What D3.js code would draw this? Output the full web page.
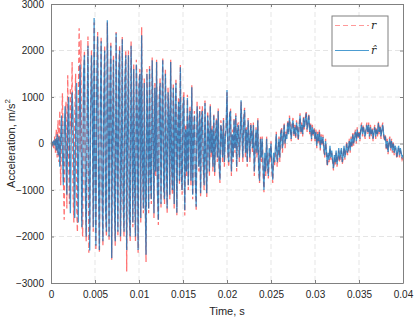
<!DOCTYPE html>
<html>
<head>
<meta charset="utf-8">
<script src="https://cdn.jsdelivr.net/npm/d3@7"></script>
<style>
  body { margin: 0; background: #fff; }
  svg text { font-family: "Liberation Sans", Arial, sans-serif; fill: #262626; }
</style>
</head>
<body>
<div id="chart"></div>
<script>
// sample step of the record, s
var dt = 0.0001;

// measured acceleration r, m/s^2 (one value every dt, from t = 0; 10 values per ms)
var rValues = [
  0, -30, 50, -100, 150, -200, 300, -300, 500, -400,
  700, -900, 200, 1080, -600, -1640, 400, 900, -1400, 1470,
  -300, -1300, 1200, 300, 1750, -1000, -1700, 600, 1500, -1200,
  -1900, 800, 2480, -200, 2220, -1600, -2000, 1200, 2000, -1100,
  -2100, 500, 2300, -2350, -1800, 700, 2000, 600, -1900, 2600,
  -400, -2300, 1300, 2400, -900, -2350, 700, 2300, -1100, -2200,
  1000, 2100, -1500, -2000, 2600, 400, -2100, 1300, 2200, -2500,
  400, 1900, -1300, -2200, 2400, 0, -2000, 1600, 2100, -2100,
  -400, 2300, -1300, -2000, 1400, 2000, -2750, 300, 2000, -1600,
  -2100, 2200, 500, -1800, 1700, -900, -2100, 1800, 700, -2350,
  1300, 1600, -1700, 2500, -400, -1500, 1400, -1100, -2550, 1600,
  400, -1500, 1700, -800, -1300, 1850, 300, -1600, 1300, -700,
  1800, -1100, -1750, 1000, 1400, -1400, 500, 1850, -1000, -1300,
  1600, -300, -1500, 1200, 700, -1200, 1800, -500, -1100, 1300,
  -1400, 600, 1400, -1550, 300, 1000, -900, 1700, -700, -1100,
  900, 1100, -1550, 400, -700, 1050, -1000, 500, 800, -900,
  1250, -1200, 300, 700, -800, -1450, 900, 400, -600, 800,
  -1150, 600, 800, -500, -1000, 950, -400, -1150, 700, 300,
  -700, 850, -300, 400, -600, 650, -700, 200, 550, -400,
  750, -500, -850, 500, 300, -400, 550, -500, 200, 350,
  1100, -300, -500, 650, 750, -700, 300, -400, 550, -200,
  650, -600, 400, 450, -400, 200, 900, 250, -400, 550,
  770, -300, 350, -500, 550, 150, -400, 450, 250, -200,
  450, -700, -200, 350, -300, 550, -600, -850, 150, -400,
  150, -600, -1050, -300, -700, 150, -500, -750, -200, -400,
  50, -600, -850, -300, -500, -200, 250, -500, -300, 150,
  -400, 250, 350, -200, 150, 450, -100, 250, 150, 500,
  250, 600, 350, 50, 450, 550, 150, 400, 100, 500,
  350, 50, 400, 650, 200, 450, 150, 600, 300, 550,
  700, 250, 500, 650, 200, 450, 50, 400, 150, 350,
  50, 300, -100, 250, 0, 300, -150, 200, -50, 190,
  -150, -300, 100, -200, -500, -250, -400, -100, -350, -200,
  -400, -580, -300, -450, -200, -500, -350, -150, -400, -250,
  -150, -450, -300, -100, -350, -200, 50, -250, -150, 100,
  -200, 150, -100, 250, -50, 200, 300, 0, 350, 100,
  270, 50, 350, 450, 150, 400, 200, 100, 350, 450,
  200, 450, 100, 400, 150, 350, 50, 300, 400, 100,
  350, 150, 480, 200, 400, 100, 350, 450, 150, 50,
  200, -150, 100, -230, 50, 150, -150, 100, -200, 50,
  -250, -100, -150, -330, -200, -100, -300, -150, -250, -350,
  -300
];

// estimated acceleration r-hat, m/s^2 (same time base)
var rHatValues = [
  0, 20, -30, 60, -40, 100, -150, 200, -250, 150,
  -500, 100, 600, -200, -900, 300, 800, -300, -1100, 400,
  1000, -200, -1500, 200, 1100, 600, -700, -1600, 300, 1300,
  -100, -1700, 500, 1700, 300, -1800, -600, 1500, 1900, -900,
  -2000, 300, 2100, -400, -2300, 500, 1900, 800, -1800, 2700,
  -500, -2200, 1200, 2300, -800, -2290, 600, 2200, -1000, -2100,
  900, 2000, -1400, -1900, 2650, 500, -2000, 1200, 2100, -2460,
  300, 1800, -1200, -2100, 2370, 100, -1900, 1500, 2000, -2000,
  -300, 2240, -1200, -1900, 1300, 1900, -2290, 200, 1900, -1500,
  -2000, 2100, 400, -1700, 1600, -800, -2000, 1700, 600, -2290,
  1200, 1500, -1600, 2330, -300, -1400, 1300, -1000, -2390, 1500,
  300, -1400, 1600, -700, -1200, 1790, 200, -1500, 1200, -600,
  1750, -1000, -1640, 900, 1300, -1300, 400, 1790, -900, -1200,
  1500, -200, -1400, 1100, 600, -1100, 1750, -400, -1000, 1200,
  -1300, 500, 1300, -1490, 200, 900, -800, 1640, -600, -1000,
  800, 1000, -1430, 300, -600, 980, -900, 400, 700, -800,
  1210, -1100, 200, 600, -700, -1360, 800, 300, -500, 700,
  -1070, 500, 700, -400, -900, 870, -300, -1070, 600, 200,
  -600, 800, -200, 300, -500, 600, -610, 100, 500, -300,
  700, -400, -780, 400, 200, -300, 500, -400, 100, 300,
  1150, -200, -400, 600, 700, -600, 200, -300, 500, -100,
  600, -500, 300, 400, -300, 100, 930, 200, -300, 500,
  720, -200, 300, -400, 500, 100, -300, 400, 200, -100,
  400, -600, -100, 300, -200, 500, -500, -800, 100, -300,
  100, -500, -1000, -200, -600, 100, -400, -700, -100, -300,
  0, -500, -780, -200, -400, -100, 200, -400, -200, 100,
  -300, 200, 300, -100, 100, 400, 0, 200, 100, 450,
  200, 550, 300, 100, 400, 500, 200, 350, 150, 450,
  300, 100, 350, 600, 250, 400, 200, 550, 350, 500,
  650, 300, 450, 600, 250, 400, 100, 350, 200, 300,
  100, 250, -50, 200, 50, 250, -100, 150, 0, 140,
  -100, -250, 50, -150, -460, -200, -350, -50, -300, -150,
  -350, -530, -250, -400, -150, -450, -300, -100, -350, -200,
  -100, -400, -250, -50, -300, -150, 0, -200, -100, 50,
  -150, 100, -50, 200, 0, 150, 250, 50, 300, 150,
  220, 100, 300, 400, 200, 350, 250, 150, 300, 400,
  250, 400, 150, 350, 200, 300, 100, 250, 350, 150,
  300, 200, 440, 250, 350, 150, 300, 400, 200, 100,
  150, -100, 50, -180, 0, 100, -100, 50, -150, 0,
  -200, -50, -100, -290, -150, -50, -250, -100, -200, -300,
  -250
];

var xTicks = [0, 0.005, 0.01, 0.015, 0.02, 0.025, 0.03, 0.035, 0.04];
var xTickLabels = ["0", "0.005", "0.01", "0.015", "0.02", "0.025", "0.03", "0.035", "0.04"];
var yTicks = [-3000, -2000, -1000, 0, 1000, 2000, 3000];

var width = 415, height = 317;
var margin = {top: 4, right: 12, bottom: 34, left: 51};
var plotW = width - margin.left - margin.right;
var plotH = height - margin.top - margin.bottom;

var svg = d3.select("#chart").append("svg")
    .attr("width", width)
    .attr("height", height);

var g = svg.append("g")
    .attr("transform", "translate(" + margin.left + "," + margin.top + ")");

var x = d3.scaleLinear().domain([0, 0.04]).range([0, plotW]);
var y = d3.scaleLinear().domain([-3000, 3000]).range([plotH, 0]);

// grid
g.selectAll(".gx").data(xTicks.slice(1, -1)).enter().append("line")
    .attr("x1", function(d){ return x(d); }).attr("x2", function(d){ return x(d); })
    .attr("y1", 0).attr("y2", plotH)
    .style("stroke", "#dedede").style("stroke-width", 0.8)
    .style("stroke-dasharray", "5,3");
g.selectAll(".gy").data(yTicks.slice(1, -1)).enter().append("line")
    .attr("x1", 0).attr("x2", plotW)
    .attr("y1", function(d){ return y(d); }).attr("y2", function(d){ return y(d); })
    .style("stroke", "#dedede").style("stroke-width", 0.8)
    .style("stroke-dasharray", "5,3");

var rData = rValues.map(function(v, i){ return {t: i * dt, v: v}; });
var rHatData = rHatValues.map(function(v, i){ return {t: i * dt, v: v}; });

var line = d3.line()
    .x(function(d){ return x(d.t); })
    .y(function(d){ return y(d.v); });

g.append("path").datum(rData)
    .attr("d", line)
    .style("fill", "none")
    .style("stroke", "#ff0000")
    .style("stroke-opacity", 0.55)
    .style("stroke-width", 1.3)
    .style("stroke-dasharray", "5,3");

g.append("path").datum(rHatData)
    .attr("d", line)
    .style("fill", "none")
    .style("stroke", "#0072BD")
    .style("stroke-opacity", 0.72)
    .style("stroke-width", 1.3);

// axes (box with inward ticks)
var axisColor = "#808080";
var xAxisB = d3.axisBottom(x).tickValues(xTicks)
    .tickFormat(function(d, i){ return xTickLabels[i]; })
    .tickSizeInner(-3).tickSizeOuter(0).tickPadding(8);
var xAxisT = d3.axisTop(x).tickValues(xTicks).tickFormat("")
    .tickSizeInner(-3).tickSizeOuter(0);
var yAxisL = d3.axisLeft(y).tickValues(yTicks).tickFormat(d3.format("d"))
    .tickSizeInner(-3).tickSizeOuter(0).tickPadding(7);
var yAxisR = d3.axisRight(y).tickValues(yTicks).tickFormat("")
    .tickSizeInner(-3).tickSizeOuter(0);

var axes = [
  g.append("g").attr("transform", "translate(0," + plotH + ")").call(xAxisB),
  g.append("g").call(xAxisT),
  g.append("g").call(yAxisL),
  g.append("g").attr("transform", "translate(" + plotW + ",0)").call(yAxisR)
];
axes.forEach(function(a){
  a.select(".domain").style("stroke", axisColor).style("stroke-width", 1);
  a.selectAll(".tick line").style("stroke", axisColor);
  a.selectAll(".tick text").style("font-size", "10px").style("fill", "#262626")
    .style("font-family", "Liberation Sans, Arial, sans-serif");
});

// labels
svg.append("text")
    .attr("x", margin.left + plotW / 2)
    .attr("y", 315)
    .attr("text-anchor", "middle")
    .style("font-size", "11px")
    .text("Time, s");

var yl = svg.append("text")
    .attr("transform", "translate(15," + (margin.top + plotH / 2) + ") rotate(-90)")
    .attr("text-anchor", "middle")
    .style("font-size", "11px");
yl.append("tspan").text("Acceleration, m/s");
yl.append("tspan").attr("dy", -5).style("font-size", "8px").text("2");

// legend
var leg = svg.append("g").attr("transform", "translate(332,16)");
leg.append("rect").attr("width", 56).attr("height", 50)
    .style("fill", "#fff").style("stroke", "#808080").style("stroke-width", 1);
leg.append("line").attr("x1", 3).attr("x2", 37).attr("y1", 9.5).attr("y2", 9.5)
    .style("stroke", "#ff0000").style("stroke-opacity", 0.4)
    .style("stroke-width", 1.2).style("stroke-dasharray", "5,3");
leg.append("line").attr("x1", 3).attr("x2", 37).attr("y1", 34.5).attr("y2", 34.5)
    .style("stroke", "#0072BD").style("stroke-opacity", 0.7).style("stroke-width", 1);
leg.append("text").attr("x", 39).attr("y", 13)
    .style("font-family", "DejaVu Serif, serif").style("font-style", "italic")
    .style("font-size", "11px").text("r");
leg.append("text").attr("x", 39).attr("y", 38)
    .style("font-family", "DejaVu Serif, serif").style("font-style", "italic")
    .style("font-size", "11px").text("r\u0302");
</script>
</body>
</html>
